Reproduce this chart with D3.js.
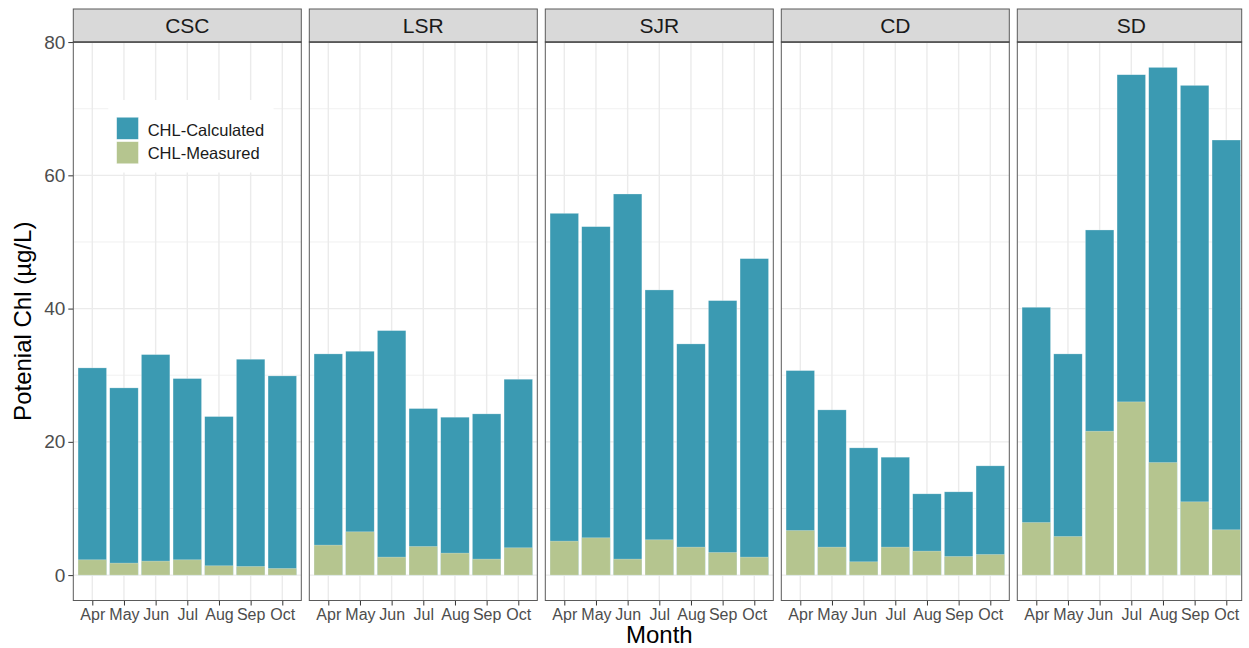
<!DOCTYPE html>
<html>
<head>
<meta charset="utf-8">
<script src="https://cdn.jsdelivr.net/npm/d3@7"></script>
<style>
  html, body { margin: 0; padding: 0; background: #fff; }
  svg { display: block; font-family: "Liberation Sans", Arial, Helvetica, sans-serif; }
</style>
</head>
<body>
<svg id="chart" width="1249" height="648"></svg>
<script>
// Sites (facets) and months (x categories)
const sites = ["CSC", "LSR", "SJR", "CD", "SD"];
const months = ["Apr", "May", "Jun", "Jul", "Aug", "Sep", "Oct"];

// Potential chlorophyll (µg/L) per site, Apr–Oct
const cscCalculated = [31.1, 28.1, 33.1, 29.5, 23.8, 32.4, 29.9];
const cscMeasured   = [2.3, 1.8, 2.1, 2.3, 1.4, 1.3, 1.0];
const lsrCalculated = [33.2, 33.6, 36.7, 25.0, 23.7, 24.2, 29.4];
const lsrMeasured   = [4.5, 6.5, 2.7, 4.3, 3.3, 2.4, 4.1];
const sjrCalculated = [54.3, 52.3, 57.2, 42.8, 34.7, 41.2, 47.5];
const sjrMeasured   = [5.1, 5.6, 2.4, 5.3, 4.2, 3.4, 2.7];
const cdCalculated  = [30.7, 24.8, 19.1, 17.7, 12.2, 12.5, 16.4];
const cdMeasured    = [6.7, 4.2, 2.0, 4.2, 3.6, 2.8, 3.1];
const sdCalculated  = [40.2, 33.2, 51.8, 75.1, 76.2, 73.5, 65.3];
const sdMeasured    = [7.9, 5.8, 21.6, 26.0, 16.9, 11.0, 6.8];

const seriesNames = ["CHL-Calculated", "CHL-Measured"];
const seriesColors = ["#3B9AB2", "#B5C58F"];
const yTicks = [0, 20, 40, 60, 80];
const yMinorTicks = [10, 30, 50, 70];

const calcBySite = { CSC: cscCalculated, LSR: lsrCalculated, SJR: sjrCalculated, CD: cdCalculated, SD: sdCalculated };
const measBySite = { CSC: cscMeasured, LSR: lsrMeasured, SJR: sjrMeasured, CD: cdMeasured, SD: sdMeasured };

// long table: one row per site / month / series
const rows = [];
sites.forEach(s => {
  months.forEach((m, i) => {
    rows.push({ site: s, month: m, series: seriesNames[0], value: calcBySite[s][i] });
    rows.push({ site: s, month: m, series: seriesNames[1], value: measBySite[s][i] });
  });
});

// layout
const svg = d3.select("#chart");
const panelLeft0 = 73.3, panelStep = 236, panelW = 228;
const panelTop = 42, panelBottom = 600.5;
const stripTop = 9;
const rightLimit = 1241.7;   // the last facet is cut at the right edge of the figure

const maxVal = d3.max(rows, d => d.value);
const y = d3.scaleLinear()
  .domain([-maxVal * 0.05, maxVal * 1.05])
  .range([panelBottom, panelTop]);

const x = d3.scalePoint().domain(months).range([0, panelW]).padding(0.6);
const barW = x.step() * 0.9;
const color = d3.scaleOrdinal().domain(seriesNames).range(seriesColors);

const gridColor = "#ebebeb";
const borderColor = "#5a5a5a";

sites.forEach((site, p) => {
  const left = panelLeft0 + p * panelStep;
  const visW = Math.min(panelW, rightLimit - left);
  const g = svg.append("g").attr("transform", `translate(${left},0)`);

  const clipId = "clip-" + site;
  svg.append("clipPath").attr("id", clipId)
    .append("rect").attr("x", left).attr("y", panelTop).attr("width", visW).attr("height", panelBottom - panelTop);

  const inner = svg.append("g").attr("clip-path", `url(#${clipId})`)
    .append("g").attr("transform", `translate(${left},0)`);

  // grid lines
  inner.selectAll("line.minor").data(yMinorTicks).join("line")
    .attr("x1", 0).attr("x2", panelW)
    .attr("y1", d => y(d)).attr("y2", d => y(d))
    .attr("stroke", gridColor).attr("stroke-width", 0.7);
  inner.selectAll("line.hmajor").data(yTicks).join("line")
    .attr("x1", 0).attr("x2", panelW)
    .attr("y1", d => y(d)).attr("y2", d => y(d))
    .attr("stroke", gridColor).attr("stroke-width", 1.4);
  inner.selectAll("line.vmajor").data(months).join("line")
    .attr("x1", d => x(d)).attr("x2", d => x(d))
    .attr("y1", panelTop).attr("y2", panelBottom)
    .attr("stroke", gridColor).attr("stroke-width", 1.4);

  // bars: calculated first, measured drawn over it from zero
  seriesNames.forEach(sn => {
    inner.selectAll(null)
      .data(rows.filter(r => r.site === site && r.series === sn))
      .join("rect")
      .attr("x", d => x(d.month) - barW / 2)
      .attr("width", barW)
      .attr("y", d => y(d.value))
      .attr("height", d => y(0) - y(d.value))
      .attr("fill", color(sn))
      .attr("stroke", "#ffffff")
      .attr("stroke-opacity", 0.45)
      .attr("stroke-width", 0.6);
  });

  // legend inside the first facet
  if (p === 0) {
    const lg = inner.append("g");
    lg.append("rect").attr("x", 108.3 - left).attr("y", 100)
      .attr("width", 165.2).attr("height", 72.5).attr("fill", "#fff");
    seriesNames.forEach((sn, i) => {
      lg.append("rect")
        .attr("x", 116.7 - left).attr("y", 117.3 + i * 24.4)
        .attr("width", 21.7).attr("height", 22)
        .attr("fill", color(sn))
        .attr("stroke", "#fff").attr("stroke-opacity", 0.5).attr("stroke-width", 0.6);
      lg.append("text")
        .attr("x", 147.7 - left).attr("y", 136 + i * 23)
        .attr("font-size", 16.5).attr("fill", "#1a1a1a")
        .text(sn);
    });
  }

  // panel border
  svg.append("rect")
    .attr("x", left).attr("y", panelTop)
    .attr("width", visW).attr("height", panelBottom - panelTop)
    .attr("fill", "none").attr("stroke", borderColor).attr("stroke-width", 1);

  // facet strip
  svg.append("rect")
    .attr("x", left).attr("y", stripTop)
    .attr("width", visW).attr("height", panelTop - stripTop)
    .attr("fill", "#d9d9d9").attr("stroke", borderColor).attr("stroke-width", 1);
  svg.append("line")
    .attr("x1", left).attr("x2", left + visW)
    .attr("y1", panelTop).attr("y2", panelTop)
    .attr("stroke", "#333").attr("stroke-width", 1.2);
  svg.append("text")
    .attr("x", left + panelW / 2).attr("y", 33.3)
    .attr("text-anchor", "middle")
    .attr("font-size", 21).attr("fill", "#1a1a1a")
    .text(site);

  // x axis
  const xAxis = g.append("g")
    .attr("transform", `translate(0,${panelBottom})`)
    .call(d3.axisBottom(x).tickSize(5).tickPadding(3));
  xAxis.select(".domain").remove();
  xAxis.selectAll(".tick line").attr("stroke", "#333").attr("stroke-width", 1);
  xAxis.selectAll(".tick text")
    .attr("font-size", 16).attr("fill", "#4d4d4d")
    .attr("font-family", "Liberation Sans, Arial, sans-serif");

  // y axis only on the first facet
  if (p === 0) {
    const yAxis = g.append("g")
      .call(d3.axisLeft(y).tickValues(yTicks).tickSize(5).tickPadding(3));
    yAxis.select(".domain").remove();
    yAxis.selectAll(".tick line").attr("stroke", "#333").attr("stroke-width", 1);
    yAxis.selectAll(".tick text")
      .attr("font-size", 19).attr("fill", "#4d4d4d")
      .attr("font-family", "Liberation Sans, Arial, sans-serif");
  }
});

// axis titles
svg.append("text")
  .attr("x", panelLeft0 + (4 * panelStep + panelW) / 2)
  .attr("y", 642.5)
  .attr("text-anchor", "middle")
  .attr("font-size", 24).attr("fill", "#000")
  .text("Month");

svg.append("text")
  .attr("transform", `translate(31,${(panelTop + panelBottom) / 2}) rotate(-90)`)
  .attr("text-anchor", "middle")
  .attr("font-size", 24).attr("fill", "#000")
  .text("Potenial Chl (µg/L)");
</script>
</body>
</html>
